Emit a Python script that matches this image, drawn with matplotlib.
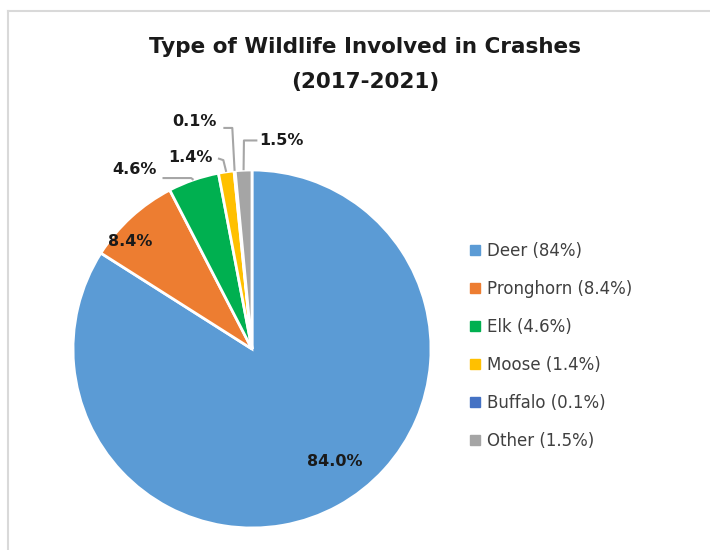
import matplotlib

matplotlib.use("Agg")
import matplotlib.pyplot as plt
import numpy as np
from matplotlib.lines import Line2D

plt.rcParams["font.family"] = ["DejaVu Sans"]

# data
animals = ["Deer", "Pronghorn", "Elk", "Moose", "Buffalo", "Other"]
shares = [84.0, 8.4, 4.6, 1.4, 0.1, 1.5]
legend_pct = ["84%", "8.4%", "4.6%", "1.4%", "0.1%", "1.5%"]
colors = ["#5B9BD5", "#ED7D31", "#00B050", "#FFC000", "#4472C4", "#A5A5A5"]

W, H = 710, 550
fig = plt.figure(figsize=(W / 100, H / 100), dpi=100)

# chart-area border (cropped on the right and bottom)
border = "#D9D9D9"
fig.add_artist(Line2D([8 / W, 1.0], [1 - 11 / H] * 2, color=border, lw=1.5))
fig.add_artist(Line2D([8 / W] * 2, [0.0, 1 - 11 / H], color=border, lw=1.5))

cx, cy, r = 252, 349, 179
ax = fig.add_axes([(cx - r) / W, (H - cy - r) / H, 2 * r / W, 2 * r / H])
wedges, _ = ax.pie(
    shares,
    colors=colors,
    startangle=90,
    counterclock=False,
    radius=1.0,
    wedgeprops={"edgecolor": "white", "linewidth": 2},
)
ax.set_xlim(-1, 1)
ax.set_ylim(-1, 1)
ax.set_aspect("equal")
ax.axis("off")

labels = [f"{v:.1f}%" for v in shares]
lbl_kw = dict(fontsize=11.5, fontweight="bold", color="#1a1a1a", ha="center", va="center")

# inside labels
ax.text(0.46, -0.63, labels[0], **lbl_kw)
ax.text(-0.68, 0.60, labels[1], **lbl_kw)

# outside labels with leader lines: (text pos, elbow pos)
outside = {
    2: ((-0.655, 1.00), [(-0.5, 0.955), (-0.34, 0.955)]),
    3: ((-0.345, 1.07), [(-0.19, 1.065), (-0.16, 1.055)]),
    4: ((-0.32, 1.27), [(-0.16, 1.235), (-0.11, 1.235)]),
    5: ((0.165, 1.165), [(0.03, 1.165), (-0.045, 1.165)]),
}
lead = "#A6A6A6"
for i, (tpos, elbows) in outside.items():
    w = wedges[i]
    mid = np.deg2rad((w.theta1 + w.theta2) / 2)
    ex, ey = 1.0 * np.cos(mid), 1.0 * np.sin(mid)
    xs = [p[0] for p in elbows] + [ex]
    ys = [p[1] for p in elbows] + [ey]
    ax.plot(xs, ys, color=lead, lw=1.5, clip_on=False, solid_capstyle="butt")
    ax.text(tpos[0], tpos[1], labels[i], **lbl_kw)

fig.text(365 / W, 1 - 47 / H, "Type of Wildlife Involved in Crashes",
         fontsize=15.5, fontweight="bold", ha="center", va="center", color="#1a1a1a")
fig.text(365 / W, 1 - 82 / H, "(2017-2021)",
         fontsize=15.5, fontweight="bold", ha="center", va="center", color="#1a1a1a")

handles = [Line2D([], [], marker="s", ls="none", markersize=7, color=c) for c in colors]
leg_labels = [f"{a} ({p})" for a, p in zip(animals, legend_pct)]
fig.legend(
    handles,
    leg_labels,
    loc="upper left",
    bbox_to_anchor=(469 / W, 1 - 242 / H),
    frameon=False,
    fontsize=12,
    labelcolor="#404040",
    handlelength=0.75,
    handletextpad=0.35,
    labelspacing=1.2,
    borderaxespad=0,
    borderpad=0,
)

fig.savefig("out.png", dpi=100, facecolor="white")
